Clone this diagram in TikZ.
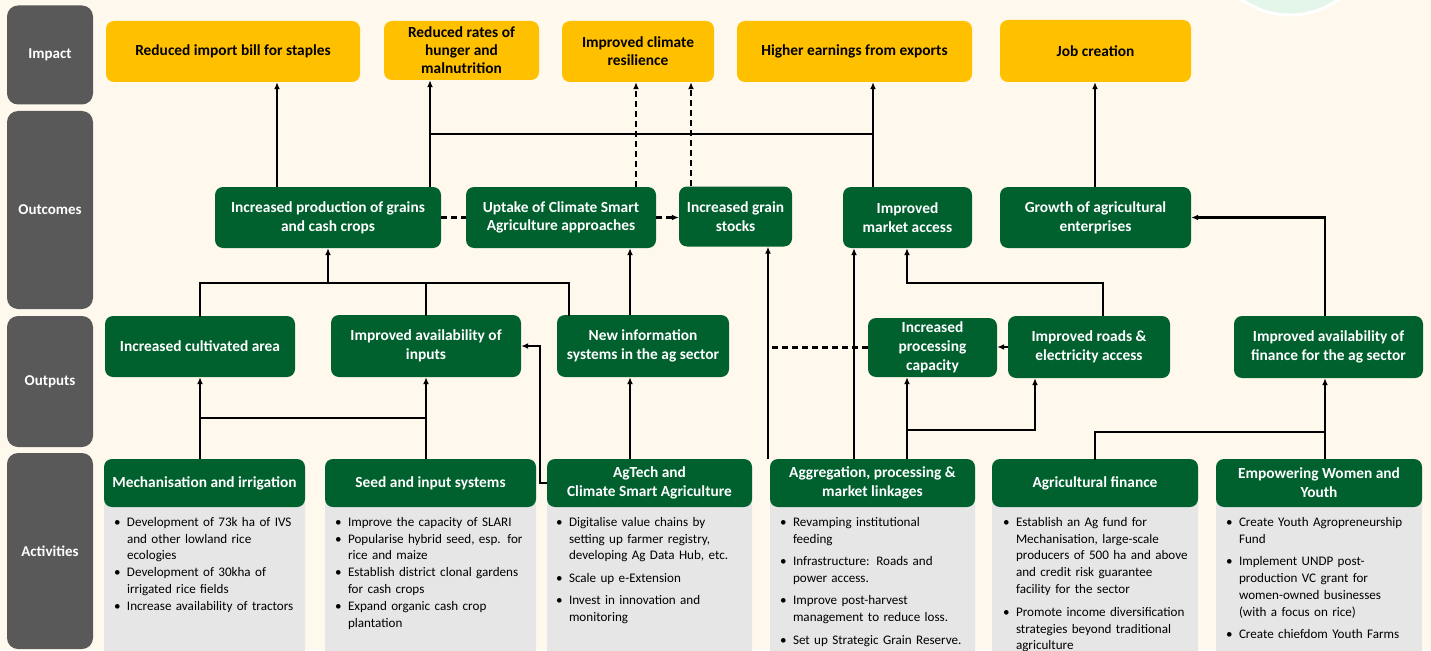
\documentclass[tikz,border=0pt]{standalone}
\usepackage{fontspec}
\setmainfont{Carlito}
\usetikzlibrary{arrows.meta,calc}
\definecolor{bg}{HTML}{FFF8EC}
\definecolor{labgrey}{HTML}{595959}
\definecolor{gold}{HTML}{FFC000}
\definecolor{dgreen}{HTML}{00612F}
\definecolor{lgrey}{HTML}{E6E6E6}
\definecolor{mint}{HTML}{E4F5E9}
\newcommand\bitem[1]{\par\noindent\hangindent=13pt\hangafter=1\makebox[13pt][l]{\textbullet}#1\par}
\newcommand\bgap{\vspace{5.5pt}}
\begin{document}
\begin{tikzpicture}[x=1pt,y=-1pt,
  lab/.style={fill=labgrey, rounded corners=11pt, text=white, font=\bfseries\fontsize{15}{17}\selectfont, inner sep=0pt},
  imp/.style={fill=gold, rounded corners=8pt, align=center, font=\bfseries\fontsize{15.4}{18}\selectfont, inner sep=1pt},
  grn/.style={fill=dgreen, text=white, rounded corners=8pt, align=center, font=\bfseries\fontsize{15.4}{18.8}\selectfont, inner sep=1pt},
  gbox/.style={fill=lgrey, rounded corners=8pt, inner sep=0pt},
  blist/.style={anchor=north west, inner sep=0pt, text width=215pt, align=left, font=\fontsize{13.1}{16.9}\selectfont},
  ln/.style={line width=2.2pt, line cap=rect},
  arr/.style={line width=2.2pt, -{Latex[length=7pt,width=6pt]}},
  dsh/.style={line width=2.2pt, dash pattern=on 6pt off 4pt},
  darr/.style={line width=2.2pt, dash pattern=on 6pt off 4pt, -{Latex[length=7pt,width=6pt]}}
]
\useasboundingbox (0,0) rectangle (1431,650);
\clip (0,0) rectangle (1431,650);
\fill[bg] (0,0) rectangle (1431,650);
\fill[mint, draw=white, line width=3pt] (1290,-68) circle (83pt);

% row labels
\node[lab, minimum width=86, minimum height=99] (lImp) at (50,55) {Impact};
\node[lab, minimum width=86, minimum height=198] (lOc) at (50,210) {Outcomes};
\node[lab, minimum width=86, minimum height=131] (lOp) at (50,381.5) {Outputs};
\node[lab, minimum width=86, minimum height=196] (lAc) at (50,551) {Activities};

% impact
\node[imp, minimum width=254, minimum height=61] (i1) at (233,51.5) {Reduced import bill for staples};
\node[imp, minimum width=155, minimum height=59] (i2) at (461.5,50.5) {Reduced rates of\\hunger and\\malnutrition};
\node[imp, minimum width=152, minimum height=61] (i3) at (638,51.5) {Improved climate\\resilience};
\node[imp, minimum width=235, minimum height=61] (i4) at (854.5,51.5) {Higher earnings from exports};
\node[imp, minimum width=191, minimum height=62] (i5) at (1095.5,51) {Job creation};

% outcomes
\node[grn, minimum width=226, minimum height=61] (o1) at (328,217.5) {Increased production of grains\\and cash crops};
\node[grn, minimum width=190, minimum height=61] (o2) at (561,217.5) {Uptake of Climate Smart\\Agriculture approaches};
\node[grn, minimum width=113, minimum height=60] (o3) at (735.5,216.5) {Increased grain\\stocks};
\node[grn, minimum width=129, minimum height=61] (o4) at (907.5,217.5) {Improved\\market access};
\node[grn, minimum width=191, minimum height=61] (o5) at (1095.5,217.5) {Growth of agricultural\\enterprises};

% outputs
\node[grn, minimum width=190, minimum height=61] (p1) at (200,346.5) {Increased cultivated area};
\node[grn, minimum width=190, minimum height=62] (p2) at (426,346) {Improved availability of\\inputs};
\node[grn, minimum width=172, minimum height=62] (p3) at (643,346) {New information\\systems in the ag sector};
\node[grn, minimum width=129, minimum height=59] (p4) at (932.5,347.5) {Increased\\processing\\capacity};
\node[grn, minimum width=162, minimum height=62] (p5) at (1089,347) {Improved roads \&\\electricity access};
\node[grn, minimum width=189, minimum height=62] (p6) at (1328.5,347) {Improved availability of\\finance for the ag sector};

% activities: grey bodies
\node[gbox, anchor=north, minimum width=201, minimum height=206] (g1) at (204.5,459) {};
\node[gbox, anchor=north, minimum width=211, minimum height=206] (g2) at (430.5,459) {};
\node[gbox, anchor=north, minimum width=205, minimum height=206] (g3) at (649.5,459) {};
\node[gbox, anchor=north, minimum width=205, minimum height=206] (g4) at (872.5,459) {};
\node[gbox, anchor=north, minimum width=206, minimum height=206] (g5) at (1095,459) {};
\node[gbox, anchor=north, minimum width=206, minimum height=206] (g6) at (1319,459) {};

% activities: headers
\node[grn, minimum width=201, minimum height=48] (a1) at (204.5,483) {Mechanisation and irrigation};
\node[grn, minimum width=211, minimum height=48] (a2) at (430.5,483) {Seed and input systems};
\node[grn, minimum width=205, minimum height=48] (a3) at (649.5,483) {AgTech and\\Climate Smart Agriculture};
\node[grn, minimum width=205, minimum height=48] (a4) at (872.5,483) {Aggregation, processing \&\\market linkages};
\node[grn, minimum width=206, minimum height=48] (a5) at (1095,483) {Agricultural finance};
\node[grn, minimum width=206, minimum height=48] (a6) at (1319,483) {Empowering Women and\\Youth};

% bullet lists
\node[blist] (b1) at ([shift={(10,50)}]g1.north west) {%
\bitem{Development of 73k ha of IVS\newline and other lowland rice\newline ecologies}%
\bitem{Development of 30kha of\newline irrigated rice fields}%
\bitem{Increase availability of tractors}};
\node[blist] (b2) at ([shift={(10,50)}]g2.north west) {%
\bitem{Improve the capacity of SLARI}%
\bitem{Popularise hybrid seed, esp. for\newline rice and maize}%
\bitem{Establish district clonal gardens\newline for cash crops}%
\bitem{Expand organic cash crop\newline plantation}};
\node[blist] (b3) at ([shift={(9,50)}]g3.north west) {%
\bitem{Digitalise value chains by\newline setting up farmer registry,\newline developing Ag Data Hub, etc.}\bgap
\bitem{Scale up e-Extension}\bgap
\bitem{Invest in innovation and\newline monitoring}};
\node[blist] (b4) at ([shift={(10,50)}]g4.north west) {%
\bitem{Revamping institutional\newline feeding}\bgap
\bitem{Infrastructure: Roads and\newline power access.}\bgap
\bitem{Improve post-harvest\newline management to reduce loss.}\bgap
\bitem{Set up Strategic Grain Reserve.}};
\node[blist] (b5) at ([shift={(11,50)}]g5.north west) {%
\bitem{Establish an Ag fund for\newline Mechanisation, large-scale\newline producers of 500 ha and above\newline and credit risk guarantee\newline facility for the sector}\bgap
\bitem{Promote income diversification\newline strategies beyond traditional\newline agriculture}};
\node[blist] (b6) at ([shift={(10,50)}]g6.north west) {%
\bitem{Create Youth Agropreneurship\newline Fund}\bgap
\bitem{Implement UNDP post-\newline production VC grant for\newline women-owned businesses\newline (with a focus on rice)}\bgap
\bitem{Create chiefdom Youth Farms}};

% helper coordinates
\coordinate (X277) at (277,0);
\coordinate (X430) at (430,0);
\coordinate (X873) at (873,0);
\coordinate (X636) at (636,0);
\coordinate (X691) at (691,0);
\coordinate (X569) at (569,0);
\coordinate (X630) at (630,0);
\coordinate (X540) at (540,0);
\coordinate (X768) at (768,0);
\coordinate (X854) at (854,0);
\coordinate (X907) at (907,0);
\coordinate (X1035) at (1035,0);
\coordinate (X1103) at (1103,0);
\coordinate (X1095) at (1095,0);
\coordinate (X1325) at (1325,0);
\coordinate (Y133) at (0,134);
\coordinate (Y283) at (0,283);
\coordinate (Y418) at (0,418);
\coordinate (Y430) at (0,430);
\coordinate (Y432) at (0,432);

% outcomes -> impact
\draw[arr] (o1.north -| X277) -- (i1.south -| X277);
\draw[arr] (o1.north -| X430) -- (i2.south -| X430);
\draw[arr] (o4.north -| X873) -- (i4.south -| X873);
\draw[ln, line cap=butt] (X430 |- Y133) -- (X873 |- Y133);
\draw[darr] (o2.north -| X636) -- (i3.south -| X636);
\draw[darr] (o3.north -| X691) -- (i3.south -| X691);
\draw[arr] (o5.north -| X1095) -- (i5.south -| X1095);

% within outcomes
\draw[dsh] (o1.east) -- (o2.west);
\draw[darr] (o2.east) -- (o3.west |- o2.east);

% outputs -> outcomes
\draw[ln] (p1.north) -- (p1.north |- Y283) -- (X569 |- Y283) -- (p3.north -| X569);
\draw[ln] (p2.north) -- (p2.north |- Y283);
\draw[arr] (o1.south |- Y283) -- (o1.south);
\draw[arr] (p3.north -| X630) -- (o2.south -| X630);
\draw[arr] (p5.north -| X1103) -- (X1103 |- Y283) -- (X907 |- Y283) -- (o4.south -| X907);
\draw[arr] (p6.north -| X1325) |- (o5.east);
\draw[arr] (p5.west) -- (p4.east |- p5.west);
\draw[dsh] (p4.west) -- (X768 |- p4.west);

% activities -> outputs / outcomes
\draw[arr] (p1.south |- a1.north) -- (p1.south);
\draw[arr] (p2.south |- a2.north) -- (p2.south);
\draw[ln] (p1.south |- Y418) -- (p2.south |- Y418);
\draw[arr] (a3.west) -- (X540 |- a3.west) -- (X540 |- p2.east) -- (p2.east);
\draw[arr] (a3.north -| X630) -- (p3.south -| X630);
\draw[arr] (a4.north -| X768) -- (o3.south -| X768);
\draw[arr] (a4.north -| X854) -- (o4.south -| X854);
\draw[arr] (a4.north -| X907) -- (p4.south -| X907);
\draw[arr] (X907 |- Y430) -- (X1035 |- Y430) -- (p5.south -| X1035);
\draw[ln] (a5.north -| X1095) -- (X1095 |- Y432) -- (X1325 |- Y432);
\draw[arr] (a6.north -| X1325) -- (p6.south -| X1325);
\end{tikzpicture}
\end{document}
